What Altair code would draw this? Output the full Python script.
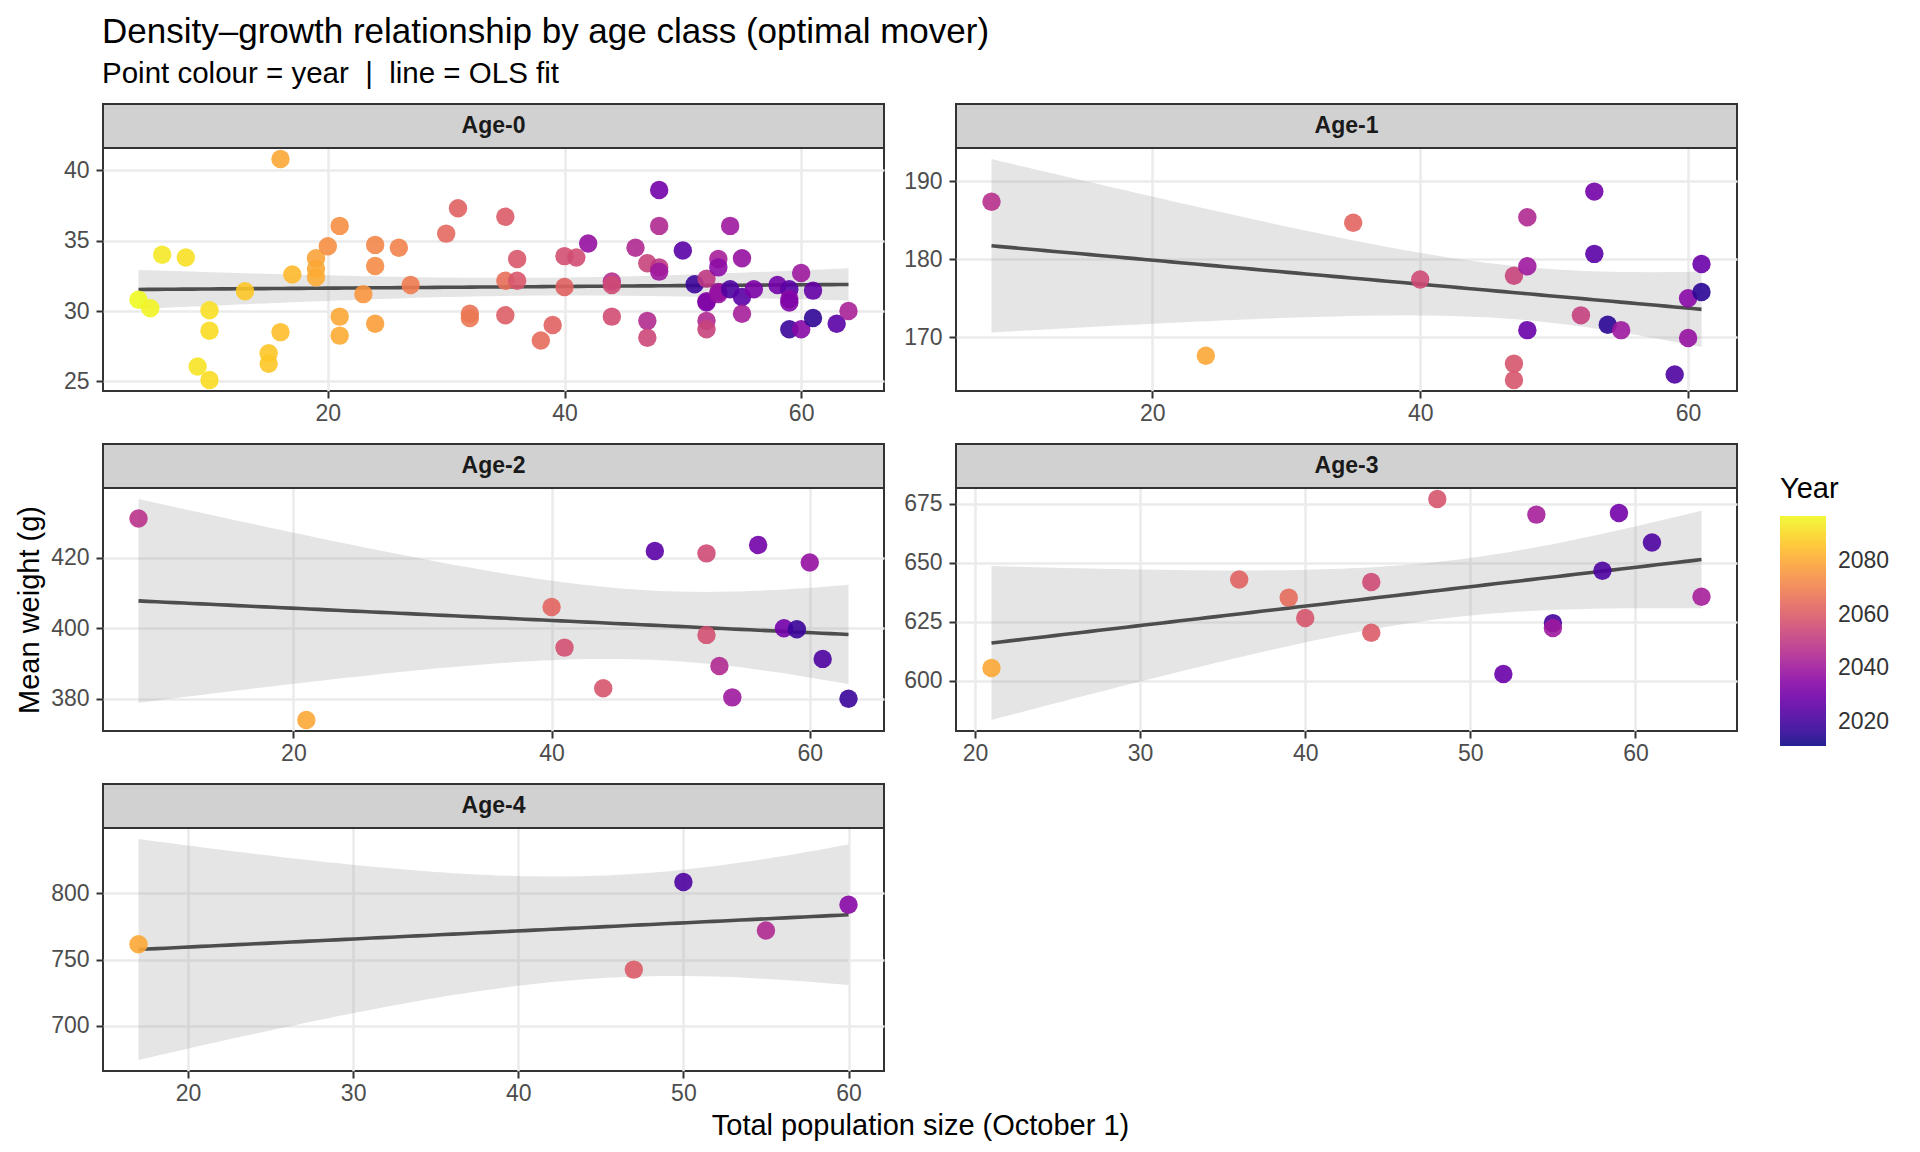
import numpy as np
import pandas as pd
import altair as alt

FONT = "Liberation Sans"

# ---------------- data ----------------
age0_pop = [4, 5, 6, 8, 9, 10, 10, 10, 13, 15, 15, 16, 16, 17, 19, 19, 19, 20, 21, 21,
            21, 23, 24, 24, 24, 26, 27, 30, 31, 32, 32, 35, 35, 35, 36, 36, 38, 39, 40, 40,
            41, 42, 44, 44, 44, 46, 47, 47, 47, 48, 48, 48, 48, 50, 51, 52, 52, 52, 52, 52,
            53, 53, 53, 53, 54, 54, 55, 55, 55, 56, 58, 59, 59, 59, 59, 60, 60, 61, 61, 63, 64]
age0_wt = [30.8, 30.2, 34.0, 33.8, 26.05, 30.05, 28.6, 25.1, 31.4, 27.0, 26.25, 40.8, 28.5, 32.6,
           33.75, 33.0, 32.4, 34.6, 36.05, 29.6, 28.25, 31.2, 34.7, 33.2, 29.1, 34.5, 31.85, 35.5,
           37.3, 29.8, 29.5, 36.7, 32.15, 29.7, 33.7, 32.15, 27.9, 29.0, 33.9, 31.7, 33.8, 34.8,
           32.1, 31.85, 29.6, 34.5, 33.4, 29.3, 28.1, 38.6, 36.05, 33.1, 32.8, 34.3, 31.9, 32.3,
           30.7, 30.6, 29.3, 28.7, 33.7, 33.1, 31.35, 31.2, 36.05, 31.55, 33.75, 31.0, 29.8, 31.55,
           31.85, 31.55, 30.85, 30.6, 28.7, 32.7, 28.7, 31.45, 29.5, 29.1, 30.0]
age0_year = [2097, 2096, 2094, 2092, 2093, 2092, 2091, 2091, 2087, 2087, 2087, 2080, 2085, 2084,
             2079, 2080, 2081, 2074, 2074, 2080, 2081, 2076, 2072, 2073, 2078, 2071, 2069, 2064,
             2062, 2067, 2068, 2060, 2066, 2061, 2059, 2059, 2065, 2062, 2057, 2062, 2056, 2038,
             2047, 2055, 2056, 2045, 2053, 2046, 2054, 2030, 2045, 2050, 2040, 2025, 2018, 2050,
             2035, 2033, 2045, 2053, 2042, 2036, 2040, 2038, 2040, 2022, 2038, 2025, 2042, 2032,
             2030, 2025, 2035, 2033, 2018, 2040, 2035, 2027, 2016, 2025, 2043]

age1_pop = [8, 24, 35, 40, 47, 47, 47, 48, 48, 48, 52, 53, 53, 54, 55, 59, 60, 60, 61, 61]
age1_wt = [187.4, 167.6, 184.7, 177.4, 177.9, 166.6, 164.5, 185.4, 179.1, 170.9, 172.8, 188.7,
           180.7, 171.6, 170.9, 165.2, 175.0, 169.9, 179.4, 175.8]
age1_year = [2047, 2080, 2063, 2055, 2053, 2058, 2058, 2045, 2040, 2028, 2052, 2030, 2025, 2015,
             2040, 2022, 2035, 2038, 2028, 2015]

age2_pop = [8, 21, 40, 41, 44, 48, 52, 52, 53, 54, 56, 58, 59, 60, 61, 63]
age2_wt = [431.1, 374.0, 406.0, 394.5, 383.0, 421.9, 421.2, 398.1, 389.3, 380.4, 423.6, 400.0,
           399.7, 418.6, 391.3, 380.0]
age2_year = [2048, 2080, 2063, 2057, 2058, 2025, 2055, 2057, 2045, 2040, 2030, 2030, 2018, 2038,
             2022, 2018]

age3_pop = [21, 36, 39, 40, 44, 44, 48, 52, 54, 55, 55, 58, 59, 61, 64]
age3_wt = [605.4, 642.9, 635.2, 626.6, 641.8, 620.3, 677.0, 602.8, 670.4, 624.4, 622.3, 646.6,
           671.1, 658.6, 635.6]
age3_year = [2080, 2062, 2065, 2058, 2055, 2060, 2058, 2028, 2042, 2020, 2040, 2022, 2030, 2022,
             2042]

age4_pop = [17, 47, 50, 55, 60]
age4_wt = [761.6, 742.4, 808.6, 772.0, 791.4]
age4_year = [2080, 2060, 2022, 2045, 2035]

labels = ["Age-0", "Age-1", "Age-2", "Age-3", "Age-4"]
x_ticks = [[20, 40, 60], [20, 40, 60], [20, 40, 60], [20, 30, 40, 50, 60], [20, 30, 40, 50, 60]]
y_ticks = [[25, 30, 35, 40], [170, 180, 190], [380, 400, 420], [600, 625, 650, 675], [700, 750, 800]]
year_ticks = [2020, 2040, 2060, 2080]
year_range = [2011, 2097]

title_text = "Density\u2013growth relationship by age class (optimal mover)"
subtitle_text = "Point colour = year \u00a0|\u00a0 line = OLS fit"
x_title = "Total population size (October 1)"
y_title = "Mean weight (g)"

# ---------------- helpers ----------------
W, H = 781, 243


def t975(df):
    z = 1.959963985
    g1 = (z**3 + z) / 4
    g2 = (5 * z**5 + 16 * z**3 + 3 * z) / 96
    g3 = (3 * z**7 + 19 * z**5 + 17 * z**3 - 15 * z) / 384
    g4 = (79 * z**9 + 776 * z**7 + 1482 * z**5 - 1920 * z**3 - 945 * z) / 92160
    return z + g1 / df + g2 / df**2 + g3 / df**3 + g4 / df**4


def fit_band(x, y, n=80):
    x = np.asarray(x, float)
    y = np.asarray(y, float)
    m = len(x)
    xm = x.mean()
    sxx = ((x - xm) ** 2).sum()
    b = ((x - xm) * (y - y.mean())).sum() / sxx
    a = y.mean() - b * xm
    s = np.sqrt(((y - (a + b * x)) ** 2).sum() / (m - 2))
    xs = np.linspace(x.min(), x.max(), n)
    fit = a + b * xs
    se = s * np.sqrt(1 / m + (xs - xm) ** 2 / sxx)
    t = t975(m - 2)
    return pd.DataFrame({"pop": xs, "fit": fit, "lo": fit - t * se, "hi": fit + t * se})


def expand(lo, hi, f=0.05):
    d = (hi - lo) * f
    return [float(lo - d), float(hi + d)]


color_scale = alt.Scale(scheme="plasma", domain=year_range)
legend = alt.Legend(
    title="Year", orient="none", legendX=1677, legendY=327, direction="vertical",
    gradientLength=230, gradientThickness=46, gradientStrokeWidth=0, format="d",
    values=year_ticks, titleFont=FONT, titleFontSize=29, titleFontWeight="normal",
    titleColor="black", titlePadding=12, labelFont=FONT, labelFontSize=23,
    labelColor="#333333", labelOffset=12,
)


def panel(i, pop, wt, year, ytitle):
    pts = pd.DataFrame({"pop": pop, "wt": wt, "year": year})
    band = fit_band(pop, wt)
    xdom = expand(min(pop), max(pop))
    ydom = expand(min(min(wt), band["lo"].min()), max(max(wt), band["hi"].max()))
    xs = alt.Scale(domain=xdom, nice=False, zero=False)
    ys = alt.Scale(domain=ydom, nice=False, zero=False)
    xax = alt.Axis(values=x_ticks[i], title=None)
    if ytitle is None:
        yax = alt.Axis(values=y_ticks[i], title=None)
    else:
        yax = alt.Axis(values=y_ticks[i], title=ytitle)

    def X():
        return alt.X("pop:Q", scale=xs, axis=xax)

    def Y(f):
        return alt.Y(f, type="quantitative", scale=ys, axis=yax)

    ribbon = alt.Chart(band).mark_area(color="#999999", opacity=0.25).encode(
        x=X(), y=Y("lo"), y2="hi:Q")
    line = alt.Chart(band).mark_line(color="#4D4D4D", strokeWidth=3.6).encode(
        x=X(), y=Y("fit"))
    points = alt.Chart(pts).mark_circle(size=340, opacity=0.9).encode(
        x=X(), y=Y("wt"),
        color=alt.Color("year:Q", scale=color_scale, legend=legend))
    lab = pd.DataFrame({"label": [labels[i]]})
    strip = alt.Chart(lab).mark_rect(fill="#D1D1D1", stroke="#333333", strokeWidth=2).encode(
        x=alt.value(0), x2=alt.value(W), y=alt.value(-44), y2=alt.value(0))
    strip_text = alt.Chart(lab).mark_text(
        font=FONT, fontSize=23, fontWeight="bold", color="#1A1A1A", baseline="middle",
        align="center").encode(x=alt.value(W / 2), y=alt.value(-22), text="label:N")
    return alt.layer(ribbon, line, points, strip, strip_text).properties(width=W, height=H)


p0 = panel(0, age0_pop, age0_wt, age0_year, " ")
p1 = panel(1, age1_pop, age1_wt, age1_year, None)
p2 = panel(2, age2_pop, age2_wt, age2_year, y_title)
p3 = panel(3, age3_pop, age3_wt, age3_year, None)
p4 = panel(4, age4_pop, age4_wt, age4_year, " ")

grid = alt.concat(p0, p1, p2, p3, p4, columns=2, spacing=16).resolve_scale(
    color="shared").properties(
    title=alt.TitleParams(x_title, orient="bottom", anchor="middle", dx=44, offset=6,
                          font=FONT, fontSize=29, fontWeight="normal", color="black"))

chart = alt.vconcat(grid).properties(
    title=alt.TitleParams(title_text, subtitle=subtitle_text, anchor="start", dx=88,
                          font=FONT, fontSize=35, fontWeight="normal", color="black",
                          subtitleFont=FONT, subtitleFontSize=29.5, subtitleColor="black",
                          subtitlePadding=10, offset=13.5),
    padding={"left": 6, "top": 7, "right": 10, "bottom": 10},
).configure_view(stroke="#333333", strokeWidth=2).configure_axis(
    labelFont=FONT, labelFontSize=23, labelColor="#4D4D4D", tickColor="#333333",
    tickWidth=2, tickSize=7, domain=False, gridColor="#EBEBEB", gridWidth=2.5,
    labelPadding=4, titleFont=FONT, titleFontSize=29, titleFontWeight="normal",
    titleColor="black",
).configure_axisY(minExtent=53, maxExtent=53, labelPadding=7, titlePadding=6
).configure_concat(spacing=16)

chart.save("out.html", embed_options={"renderer": "svg", "actions": False})
